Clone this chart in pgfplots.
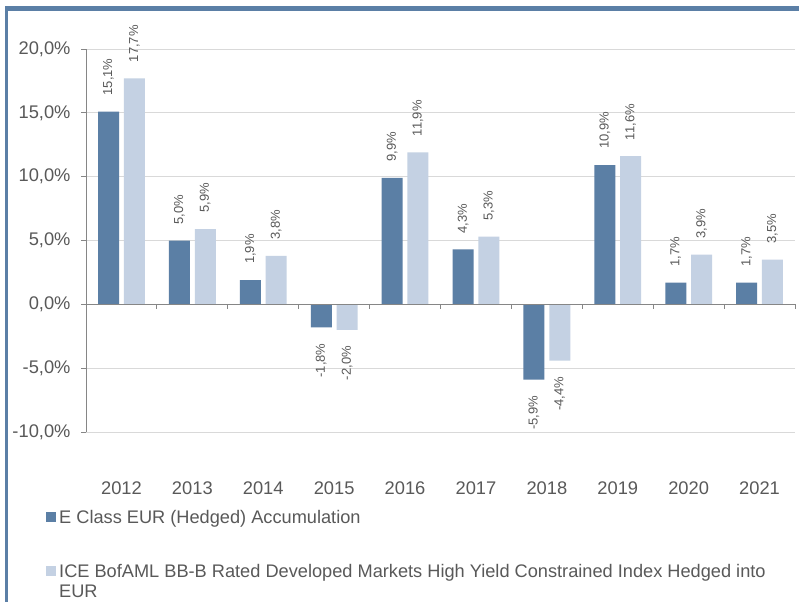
\documentclass[border=0pt]{standalone}
\usepackage{pgfplots}
\pgfplotsset{compat=1.18}
\usepackage{fontspec}
\setmainfont{Liberation Sans}
\definecolor{darkbar}{HTML}{5B7FA5}
\definecolor{lightbar}{HTML}{C4D1E3}
\definecolor{txt}{HTML}{595959}
\definecolor{axisgray}{HTML}{868686}
\definecolor{gridgray}{HTML}{D9D9D9}
\definecolor{framec}{HTML}{5B7FA6}
\begin{document}
\begin{tikzpicture}
\path[use as bounding box] (0pt,0pt) rectangle (799pt,-602pt);
\fill[white] (0pt,0pt) rectangle (799pt,-602pt);
\fill[framec] (5pt,-6pt) rectangle (799pt,-11pt);
\fill[framec] (5pt,-6pt) rectangle (7.5pt,-602pt);
\begin{axis}[
  at={(86pt,-432pt)}, anchor=south west,
  scale only axis, width=709pt, height=383pt,
  xmin=-0.5, xmax=9.5, ymin=-10, ymax=20,
  clip=false,
  axis y line*=left, axis x line*=bottom,
  x axis line style={draw=none},
  y axis line style={axisgray, line width=1pt},
  ytick={-10,-5,0,5,10,15,20},
  ymajorgrids, grid style={gridgray, line width=1pt},
  /pgf/number format/assume math mode=true,
  yticklabel={\pgfmathprintnumber[fixed,fixed zerofill,precision=1,use comma]{\tick}\%},
  yticklabel style={font=\fontsize{18.3}{18.3}\selectfont, text=txt, xshift=-7pt},
  ytick style={axisgray, line width=1pt},
  major tick length=5pt, tick align=outside,
  xtick={0,...,9},
  xticklabels={2012,2013,2014,2015,2016,2017,2018,2019,2020,2021},
  xtick style={draw=none},
  xticklabel style={font=\fontsize{18.3}{18.3}\selectfont, text=txt, yshift=-41pt},
  ybar, bar width=21pt,
  nodes near coords={\pgfmathprintnumber[fixed,fixed zerofill,precision=1,use comma]{\pgfplotspointmeta}\%},
  visualization depends on={rawy \as \rawy},
  every node near coord/.append style={rotate=90, font=\fontsize{13}{13}\selectfont, text=txt, inner xsep=16pt, inner ysep=0pt, anchor={\ifdim\rawy pt<0pt east\else west\fi}},
]
\addplot[fill=darkbar, draw=none, bar shift=-12.9pt] coordinates {
  (0,15.1) (1,5.0) (2,1.9) (3,-1.8) (4,9.9) (5,4.3) (6,-5.9) (7,10.9) (8,1.7) (9,1.7)};
\addplot[fill=lightbar, draw=none, bar shift=12.9pt] coordinates {
  (0,17.7) (1,5.9) (2,3.8) (3,-2.0) (4,11.9) (5,5.3) (6,-4.4) (7,11.6) (8,3.9) (9,3.5)};
\draw[axisgray, line width=1pt] (axis cs:-0.5,0) -- (axis cs:9.5,0);
\pgfplotsinvokeforeach{0.5,1.5,2.5,3.5,4.5,5.5,6.5,7.5,8.5,9.5}{
  \draw[axisgray, line width=1pt] (axis cs:#1,0) -- ++(0pt,-5pt);
}
\end{axis}
\fill[darkbar] (46pt,-512pt) rectangle (56pt,-522pt);
\node[anchor=base west, inner sep=0pt, text=txt, font=\fontsize{18.2}{18.2}\selectfont] at (59pt,-523pt) {E Class EUR (Hedged) Accumulation};
\fill[lightbar] (46pt,-566pt) rectangle (56pt,-576pt);
\node[anchor=base west, inner sep=0pt, text=txt, font=\fontsize{18.2}{18.2}\selectfont] at (59pt,-577pt) {ICE BofAML BB-B Rated Developed Markets High Yield Constrained Index Hedged into};
\node[anchor=base west, inner sep=0pt, text=txt, font=\fontsize{18.2}{18.2}\selectfont] at (59pt,-597.5pt) {EUR};
\end{tikzpicture}
\end{document}
